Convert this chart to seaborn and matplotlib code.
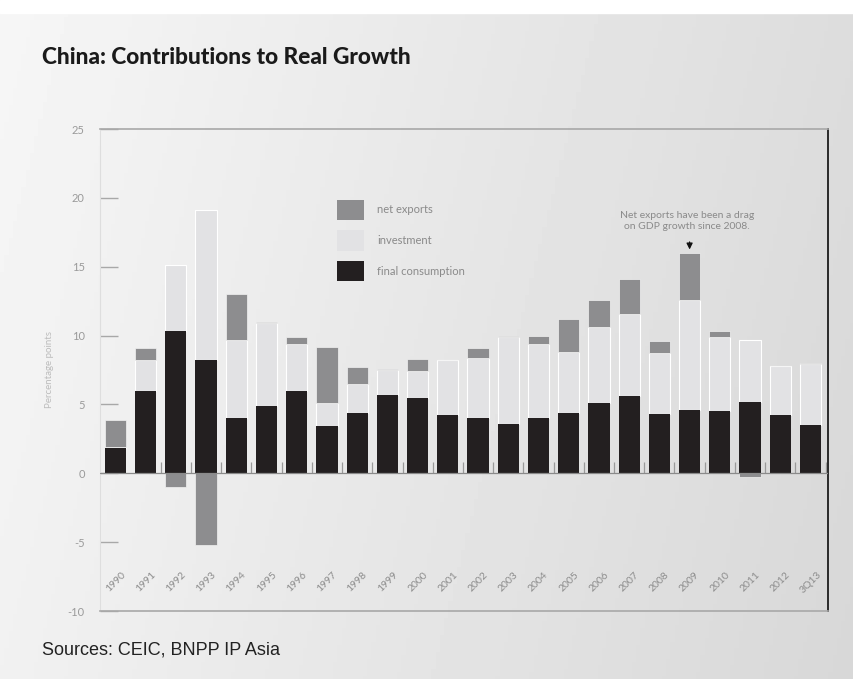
import numpy as np
import pandas as pd
import matplotlib
matplotlib.use("Agg")
import matplotlib.pyplot as plt
from matplotlib.patches import Patch
import seaborn as sns

years = ["1990", "1991", "1992", "1993", "1994", "1995", "1996", "1997", "1998",
         "1999", "2000", "2001", "2002", "2003", "2004", "2005", "2006", "2007",
         "2008", "2009", "2010", "2011", "2012", "3Q13"]
final_consumption = [1.8, 6.0, 10.3, 8.2, 4.0, 4.9, 6.0, 3.4, 4.4, 5.7, 5.5, 4.2,
                     4.0, 3.6, 4.0, 4.4, 5.1, 5.6, 4.3, 4.6, 4.5, 5.2, 4.2, 3.5]
investment = [0.1, 2.2, 4.8, 10.9, 5.7, 6.0, 3.4, 1.7, 2.1, 1.8, 1.9, 4.0,
              4.4, 6.3, 5.4, 4.4, 5.5, 6.0, 4.45, 8.0, 5.4, 4.5, 3.6, 4.4]
net_exports = [2.0, 0.9, -1.0, -5.2, 3.3, 0.1, 0.5, 4.1, 1.2, 0.1, 0.9, 0.0,
               0.7, 0.1, 0.6, 2.4, 2.0, 2.5, 0.85, 3.4, 0.4, -0.3, 0.0, 0.1]

series_names = ["net exports", "investment", "final consumption"]
colors = {"net exports": "#8d8d8f", "investment": "#e2e2e4", "final consumption": "#231f20"}

fc = np.array(final_consumption)
inv = np.array(investment)
ne = np.array(net_exports)
ne_bottom = np.where(ne >= 0, fc + inv, 0.0)

df = pd.DataFrame({"year": years, "fc": fc, "inv": inv, "ne": ne,
                   "inv_bottom": fc, "ne_bottom": ne_bottom})

sns.set_theme(style="white")
plt.rcParams["font.family"] = ["Lato", "DejaVu Sans"]

W, H = 854, 679
fig = plt.figure(figsize=(W / 100, H / 100), dpi=100)

# page background gradient
bg = fig.add_axes([0, 0, 1, 1], zorder=-10)
xx, yy = np.meshgrid(np.linspace(0, 1, 200), np.linspace(0, 1, 200))
grad = 0.965 - 0.10 * xx - 0.02 * yy
bg.imshow(grad, cmap="gray", vmin=0, vmax=1, aspect="auto", extent=[0, 1, 0, 1], origin="upper")
bg.axhspan(1 - 13 / H, 1, color="white", zorder=2)
bg.set_xlim(0, 1); bg.set_ylim(0, 1)
bg.axis("off")

ax = fig.add_axes([100 / W, 1 - 611 / H, 728 / W, 482 / H])
ax.patch.set_alpha(0)

bw = 0.7
sns.barplot(data=df, x="year", y="fc", color=colors["final consumption"], width=bw,
            saturation=1, ax=ax, linewidth=0, zorder=3)
sns.barplot(data=df, x="year", y="inv", bottom=df["inv_bottom"].values, color=colors["investment"],
            width=bw, saturation=1, ax=ax, linewidth=0.8, edgecolor="white", zorder=2)
sns.barplot(data=df, x="year", y="ne", bottom=df["ne_bottom"].values, color=colors["net exports"],
            width=bw, saturation=1, ax=ax, linewidth=0.5, edgecolor="#f2f2f2", zorder=2)

n = len(years)
ax.set_xlim(-0.51, n - 1 + 0.58)
ax.set_ylim(-10, 25)

# zero line and small separators
ax.axhline(0, color="#8a8a8a", lw=0.9, zorder=4)
ax.vlines(np.arange(1, n) + 0.5, 0, 0.8, color="#9a9a9a", lw=0.9, zorder=1)

# spines
for s in ["top", "bottom"]:
    ax.spines[s].set_color("#a8a8a8")
    ax.spines[s].set_linewidth(1.2)
ax.spines["left"].set_color("#dedede")
ax.spines["left"].set_linewidth(0.8)
ax.spines["right"].set_color("#2a2a2a")
ax.spines["right"].set_linewidth(1.4)

ax.set_yticks([-10, -5, 0, 5, 10, 15, 20, 25])
ax.set_yticklabels(["-10", "-5", "0", "5", "10", "15", "20", "25"])
ax.tick_params(axis="y", direction="in", length=13, width=1.0, color="#a8a8a8",
               labelsize=8, labelcolor="#9a9a9a", pad=11, left=True)
ax.set_xticks([])
ax.set_xlabel("")
ax.set_ylabel("Percentage points", fontsize=7, color="#bcbcbc", labelpad=10)

for i, yr in enumerate(years):
    ax.text(i, -7.9, yr, rotation=45, ha="center", va="center", fontsize=7.5, color="#8c8c8c")

handles = [Patch(facecolor=colors[s], edgecolor="none") for s in series_names]
ax.legend(handles, series_names, loc="upper left", bbox_to_anchor=(0.3256, 0.853),
          frameon=False, fontsize=8, labelcolor="#8a8a8a", handlelength=2.4, handleheight=2.4,
          labelspacing=0.95, handletextpad=1.2, borderpad=0, borderaxespad=0)

ax.text(18.92, 18.3, "Net exports have been a drag\non GDP growth since 2008.", ha="center",
        va="center", fontsize=7.5, color="#8a8a8a", linespacing=1.3)
ax.annotate("", xy=(19, 16.05), xytext=(19, 17.0),
            arrowprops=dict(arrowstyle="-|>", color="#111111", lw=0.9, mutation_scale=9))

fig.text(42 / W, 1 - 58 / H, "China: Contributions to Real Growth", fontsize=16.3, fontweight="black",
         family=["Lato", "DejaVu Sans"], color="#1a1a1a", ha="left", va="center")
fig.text(42 / W, 1 - 650 / H, "Sources: CEIC, BNPP IP Asia", fontsize=13, color="#222222",
         family=["Liberation Sans", "DejaVu Sans"], ha="left", va="center")

fig.savefig("out.png", dpi=100)
